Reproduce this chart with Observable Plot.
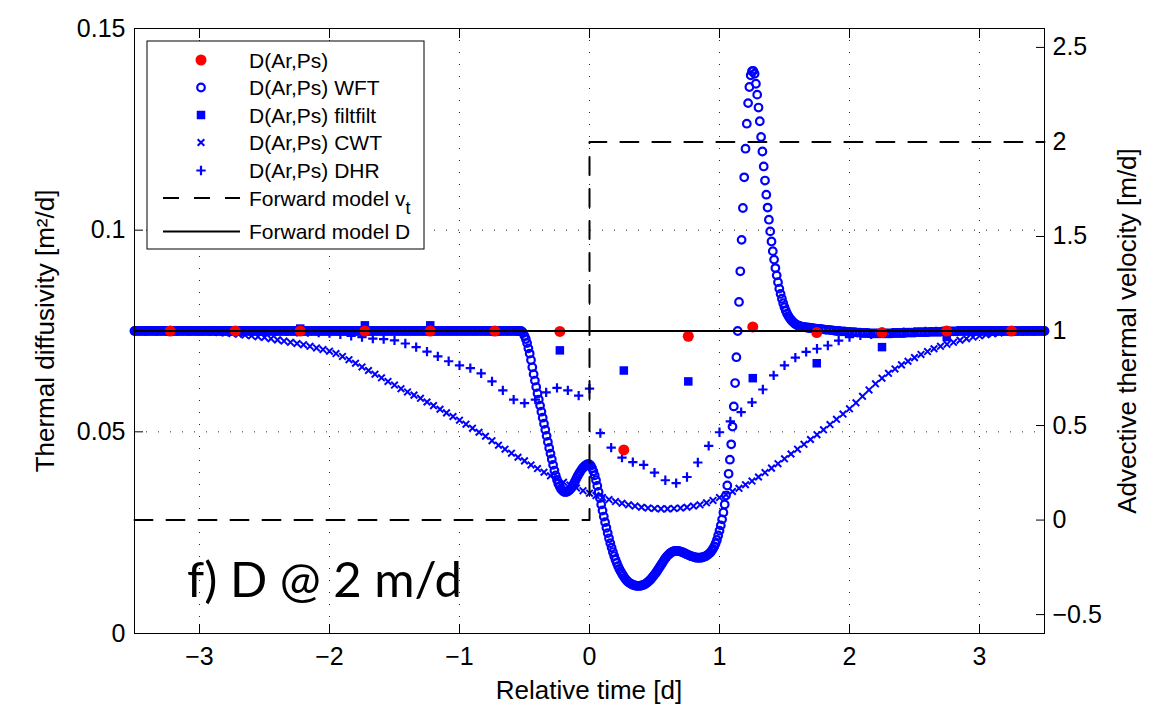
<!DOCTYPE html>
<html><head><meta charset="utf-8">
<script src="https://cdn.jsdelivr.net/npm/d3@7"></script>
<script src="https://cdn.jsdelivr.net/npm/@observablehq/plot@0.6"></script>
<style>html,body{margin:0;padding:0;background:#fff;} #chart svg{display:block;}</style>
</head><body><div id="chart"></div>
<script>
const FONT = "'Liberation Sans', Arial, Helvetica, sans-serif";

// ticks
const xTicks = [-3, -2, -1, 0, 1, 2, 3];
const dTicks = [0, 0.05, 0.1, 0.15];
const vTicks = [-0.5, 0, 0.5, 1, 1.5, 2, 2.5];
const xDomain = [-3.5, 3.5];
const dDomain = [0, 0.15];
const vDomain = [-0.6, 2.6];

// D(Ar,Ps) (red) and filtfilt (squares), same times
const arpsT = [-3.225, -2.725, -2.225, -1.728, -1.225, -0.728, -0.228, 0.264, 0.76, 1.256, 1.748, 2.25, 2.748, 3.246];
const arpsD = [0.0750, 0.0750, 0.0750, 0.0750, 0.0750, 0.0750, 0.0749, 0.0455, 0.0737, 0.0760, 0.0746, 0.0746, 0.0750, 0.0750];
const filtD = [0.0750, 0.0750, 0.0756, 0.0764, 0.0764, 0.0748, 0.0702, 0.0652, 0.0625, 0.0633, 0.0670, 0.0710, 0.0735, 0.0750];

// CWT, sampled every 0.05 d from -3.5
const cwtStart = -3.5, cwtStep = 0.05;
const cwtD = [
 .0750,.0750,.0750,.0750,.0750,.0750,.0750,.0749,.0749,.0749,
 .0748,.0748,.0747,.0746,.0745,.0744,.0742,.0740,.0738,.0736,
 .0734,.0731,.0728,.0725,.0722,.0719,.0716,.0712,.0708,.0704,
 .0700,.0694,.0687,.0679,.0670,.0661,.0652,.0643,.0634,.0625,
 .0616,.0607,.0599,.0591,.0583,.0574,.0565,.0556,.0547,.0538,
 .0529,.0519,.0509,.0499,.0489,.0478,.0467,.0457,.0447,.0437,
 .0428,.0418,.0409,.0400,.0391,.0383,.0375,.0368,.0361,.0354,
 .0348,.0342,.0337,.0332,.0327,.0323,.0319,.0316,.0313,.0311,
 .0310,.0309,.0309,.0310,.0311,.0313,.0316,.0319,.0324,.0330,
 .0337,.0344,.0352,.0360,.0369,.0378,.0388,.0399,.0410,.0421,
 .0433,.0445,.0457,.0469,.0481,.0493,.0505,.0518,.0531,.0544,
 .0557,.0572,.0588,.0604,.0619,.0633,.0645,.0656,.0666,.0675,
 .0684,.0692,.0699,.0706,.0712,.0717,.0722,.0727,.0731,.0735,
 .0738,.0741,.0743,.0745,.0747,.0748,.0749,.0749,.0750,.0750,
 .0750];

// DHR, sampled every 1/12 d from -3.5
const dhrStart = -3.5, dhrStep = 1 / 12;
const dhrD = [
 .0750,.0750,.0750,.0750,.0750,.0750,.0750,.0750,.0750,.0750,.0750,.0750,
 .0750,.0749,.0749,.0748,.0747,.0746,.0745,.0742,.0738,.0735,.0731,.0730,
 .0727,.0719,.0710,.0699,.0687,.0675,.0665,.0658,.0645,.0625,.0603,.0580,
 .0571,.0580,.0598,.0609,.0603,.0590,.0607,.0497,.0461,.0436,.0425,.0418,
 .0399,.0380,.0373,.0388,.0424,.0465,.0499,.0526,.0549,.0573,.0605,.0640,
 .0665,.0684,.0698,.0706,.0714,.0726,.0735,.0739,.0742,.0744,.0746,.0747,
 .0748,.0749,.0749,.0750,.0750,.0750,.0750,.0750,.0750,.0750,.0750,.0750,
 .0750];

// WFT, three stretches of samples
const wftLeftStart = -3.5, wftLeftStep = 0.02;
const wftLeftD = [
 .075,.075,.075,.075,.075,.075,.075,.075,.075,.075,.075,.075,.075,.075,.075,.075,.075,.075,.075,.075,
 .075,.075,.075,.075,.075,.075,.075,.075,.075,.075,.075,.075,.075,.075,.075,.075,.075,.075,.075,.075,
 .075,.075,.075,.075,.075,.075,.075,.075,.075,.075,.075,.075,.075,.075,.075,.075,.075,.075,.075,.075,
 .075,.075,.075,.075,.075,.075,.075,.075,.075,.075,.075,.075,.075,.075,.075,.075,.075,.075,.075,.075,
 .075,.075,.075,.075,.075,.075,.075,.075,.075,.075,.075,.075,.075,.075,.075,.075,.075,.075,.075,.075,
 .075,.075,.075,.075,.075,.075,.075,.075,.075,.075,.075,.075,.075,.075,.075,.075,.075,.075,.075,.075,
 .075,.075,.075,.075,.075,.075,.075,.075,.075,.075,.075,.075,.075,.075,.075,.075,.075,.075,.075,.075,
 .075,.075,.075,.075,.075,.075,.075,.075];
const wftMidStart = -0.55, wftMidStep = 0.01;
const wftMidD = [
 .0750,.0750,.0750,.0749,.0745,.0738,.0730,.0720,.0707,.0694,
 .0678,.0660,.0643,.0627,.0611,.0595,.0580,.0565,.0550,.0535,
 .0520,.0505,.0490,.0475,.0460,.0446,.0432,.0418,.0404,.0392,
 .0381,.0372,.0365,.0359,.0355,.0352,.0351,.0351,.0352,.0354,
 .0357,.0361,.0366,.0372,.0378,.0385,.0391,.0397,.0402,.0407,
 .0411,.0414,.0417,.0419,.0420,.0419,.0416,.0410,.0402,.0392,
 .0380,.0366,.0351,.0336,.0320,.0305,.0290,.0276,.0262,.0249,
 .0236,.0224,.0213,.0202,.0192,.0183,.0175,.0167,.0160,.0154,
 .0148,.0143,.0138,.0134,.0130,.0127,.0125,.0123,.0121,.0120,
 .0119,.0118,.0118,.0118,.0118,.0119,.0120,.0121,.0123,.0125,
 .0128,.0131,.0134,.0138,.0142,.0146,.0150,.0155,.0160,.0165,
 .0170,.0175,.0180,.0185,.0189,.0193,.0196,.0199,.0201,.0203,
 .0204,.0205,.0205,.0205,.0204,.0203,.0202,.0201,.0199,.0198,
 .0196,.0195,.0193,.0192,.0191,.0190,.0189,.0188,.0188,.0188,
 .0188,.0188,.0189,.0190,.0191,.0193,.0195,.0198,.0201,.0205,
 .0210,.0216,.0223,.0232,.0243,.0255,.0268,.0283,.0300,.0320,
 .0342,.0367,.0396,.0431,.0469,.0513,.0563,.0621,.0685,.0750,
 .0822,.0898,.0976,.1055,.1131,.1202,.1264,.1315,.1355,.1384,
 .1394,.1395,.1388,.1363,.1336,.1304,.1270,.1231,.1195,.1158,
 .1123,.1088,.1056,.1026,.0997,.0972,.0948,.0927,.0906,.0888,
 .0871,.0855,.0842,.0830,.0819,.0809,.0800,.0793,.0787,.0782,
 .0778,.0774,.0771,.0768,.0766,.0764,.0763,.0762,.0761,.0760,
 .0760,.0759,.0759,.0758,.0758,.0757,.0757,.0757,.0756,.0756];
const wftRightStart = 1.76, wftRightStep = 0.02;
const wftRightD = [
 .0755,.0755,.0754,.0753,.0753,.0752,.0751,.0750,.0750,.0749,
 .0749,.0748,.0748,.0747,.0747,.0746,.0746,.0745,.0745,.0745,
 .0744,.0744,.0744,.0744,.0744,.0744,.0744,.0744,.0744,.0745,
 .0745,.0745,.0745,.0745,.0746,.0746,.0746,.0746,.0747,.0747,
 .0747,.0747,.0747,.0748,.0748,.0748,.0748,.0748,.0749,.0749,
 .0749,.0749,.0749,.0749,.0750,.0750,.0750,.0750,.0750,.0750,
 .0750,.0750,.0750,.0750,.0750,.0750,.0750,.0750,.0750,.0750,
 .0750,.0750,.0750,.0750,.0750,.0750,.0750,.0750,.0750,.0750,
 .0750,.0750,.0750,.0750,.0750,.0750,.0750,.0750];

// forward models
const fwdVT = [-3.5, 0, 0, 3.5];
const fwdV = [0, 0, 2, 2];
const fwdDT = [-3.5, 3.5];
const fwdD = [0.075, 0.075];

const legendLabels = ["D(Ar,Ps)", "D(Ar,Ps) WFT", "D(Ar,Ps) filtfilt", "D(Ar,Ps) CWT", "D(Ar,Ps) DHR", "Forward model v", "Forward model D"];
const xLabel = "Relative time [d]";
const yLabel = "Thermal diffusivity [m\u00B2/d]";
const y2Label = "Advective thermal velocity [m/d]";
const panelLabel = "f) D @ 2 m/d";

// helpers
const vToD = v => dDomain[0] + (v - vDomain[0]) / (vDomain[1] - vDomain[0]) * (dDomain[1] - dDomain[0]);
const dToV = d => vDomain[0] + (d - dDomain[0]) / (dDomain[1] - dDomain[0]) * (vDomain[1] - vDomain[0]);
const seq = (start, step, vals) => vals.map((d, i) => ({t: start + i * step, d}));
const minus = s => s.replace("-", "\u2212");
const fmtNum = x => minus(String(Math.round(x * 100) / 100));

const arps = arpsT.map((t, i) => ({t, d: arpsD[i]}));
const filt = arpsT.map((t, i) => ({t, d: filtD[i]}));
const cwt = seq(cwtStart, cwtStep, cwtD);
const dhr = seq(dhrStart, dhrStep, dhrD);
const wft = [...seq(wftLeftStart, wftLeftStep, wftLeftD), ...seq(wftMidStart, wftMidStep, wftMidD), ...seq(wftRightStart, wftRightStep, wftRightD)];
const fwdVel = fwdVT.map((t, i) => ({t, d: vToD(fwdV[i])}));
const fwdDiff = fwdDT.map((t, i) => ({t, d: fwdD[i]}));

const BLUE = "#0000ff", RED = "#ff0000";
const TICK = 9;
const DASH = "18,14";
const S = {wftR: 3.8, wftW: 2.2, sqR: 4.8, xR: 3.1, xW: 2.0, pR: 3.1, pW: 2.2, redR: 5.5};

const svg = Plot.plot({
  width: 1158, height: 707,
  marginLeft: 134, marginRight: 114, marginTop: 28, marginBottom: 74,
  x: {domain: xDomain},
  y: {domain: dDomain},
  style: {fontFamily: FONT, fontSize: "25px", background: "white", color: "black", overflow: "visible"},
  marks: [
    Plot.gridX(xTicks, {stroke: "#000", strokeOpacity: 0.85, strokeDasharray: "1,11"}),
    Plot.gridY([0.05, 0.1], {stroke: "#000", strokeOpacity: 0.85, strokeDasharray: "1,11"}),
    Plot.dot(wft, {x: "t", y: "d", r: S.wftR, stroke: BLUE, strokeWidth: S.wftW, fill: "none"}),
    Plot.dot(filt, {x: "t", y: "d", symbol: "square", r: S.sqR, fill: BLUE, stroke: "none"}),
    Plot.dot(cwt, {x: "t", y: "d", symbol: "times", r: S.xR, stroke: BLUE, strokeWidth: S.xW, fill: "none"}),
    Plot.dot(dhr, {x: "t", y: "d", symbol: "plus", r: S.pR, stroke: BLUE, strokeWidth: S.pW, fill: "none"}),
    Plot.dot(arps, {x: "t", y: "d", r: S.redR, fill: RED, stroke: "none"}),
    Plot.line(fwdVel, {x: "t", y: "d", stroke: "black", strokeWidth: 2, strokeDasharray: DASH, curve: "linear"}),
    Plot.line(fwdDiff, {x: "t", y: "d", stroke: "black", strokeWidth: 2}),
    Plot.frame({stroke: "black", strokeWidth: 1}),
    // inward ticks
    Plot.axisX(xTicks, {anchor: "bottom", tickSize: -TICK, tickFormat: () => "", label: null}),
    Plot.axisX(xTicks, {anchor: "top", tickSize: -TICK, tickFormat: () => "", label: null}),
    Plot.axisY(dTicks, {anchor: "left", tickSize: -TICK, tickFormat: () => "", label: null}),
    Plot.axisY(vTicks.map(vToD), {anchor: "right", tickSize: -TICK, tickFormat: () => "", label: null}),
    // tick labels
    Plot.axisX(xTicks, {anchor: "bottom", tickSize: 0, tickPadding: 14, tickFormat: d => minus(String(d)), label: null}),
    Plot.axisY(dTicks, {anchor: "left", tickSize: 0, tickPadding: 9, tickFormat: fmtNum, label: null}),
    Plot.axisY(vTicks.map(vToD), {anchor: "right", tickSize: 0, tickPadding: 8, tickFormat: d => fmtNum(dToV(d)), label: null})
  ]
});
document.getElementById("chart").append(svg);

const g = d3.select(svg);
// axis labels
g.append("text").attr("x", 589).attr("y", 690).attr("text-anchor", "middle").attr("dominant-baseline", "central")
  .attr("font-family", FONT).attr("font-size", 26).text(xLabel);
g.append("text").attr("transform", "translate(45,331) rotate(-90)").attr("text-anchor", "middle").attr("dominant-baseline", "central")
  .attr("font-family", FONT).attr("font-size", 26).text(yLabel);
g.append("text").attr("transform", "translate(1127,331) rotate(-90)").attr("text-anchor", "middle").attr("dominant-baseline", "central")
  .attr("font-family", FONT).attr("font-size", 26).text(y2Label);
// panel label
g.append("text").attr("x", 187).attr("y", 597).attr("text-anchor", "start").attr("font-family", "Lato, 'Open Sans', sans-serif").attr("font-size", 49)
  .attr("fill", "black").text(panelLabel);

// legend
const lg = g.append("g").attr("font-family", FONT).attr("font-size", 21).attr("text-anchor", "start");
lg.append("rect").attr("x", 147).attr("y", 41).attr("width", 277).attr("height", 208).attr("fill", "white").attr("stroke", "black").attr("stroke-width", 1);
const rows = [60, 87.5, 115, 142.5, 170.5, 198, 231.5];
const mx = 201;
lg.append("circle").attr("cx", mx).attr("cy", rows[0]).attr("r", S.redR).attr("fill", RED);
lg.append("circle").attr("cx", mx).attr("cy", rows[1]).attr("r", S.wftR).attr("fill", "none").attr("stroke", BLUE).attr("stroke-width", S.wftW);
lg.append("path").attr("transform", `translate(${mx},${rows[2]})`).attr("d", d3.symbol(d3.symbolSquare, Math.PI * S.sqR * S.sqR)()).attr("fill", BLUE);
lg.append("path").attr("transform", `translate(${mx},${rows[3]})`).attr("d", d3.symbol(d3.symbolTimes, Math.PI * S.xR * S.xR)()).attr("fill", "none").attr("stroke", BLUE).attr("stroke-width", S.xW);
lg.append("path").attr("transform", `translate(${mx},${rows[4]})`).attr("d", d3.symbol(d3.symbolPlus, Math.PI * S.pR * S.pR)()).attr("fill", "none").attr("stroke", BLUE).attr("stroke-width", S.pW);
lg.append("line").attr("x1", 163).attr("x2", 240).attr("y1", rows[5]).attr("y2", rows[5]).attr("stroke", "black").attr("stroke-width", 2).attr("stroke-dasharray", "16,15");
lg.append("line").attr("x1", 163).attr("x2", 240).attr("y1", rows[6]).attr("y2", rows[6]).attr("stroke", "black").attr("stroke-width", 2);
legendLabels.forEach((lab, i) => {
  const t = lg.append("text").attr("x", 249).attr("y", rows[i] + 7.5).attr("fill", "black").attr("text-anchor", "start").text(lab);
  if (i === 5) t.append("tspan").attr("dy", 8).attr("font-size", 18).text("t");
});
</script></body></html>
